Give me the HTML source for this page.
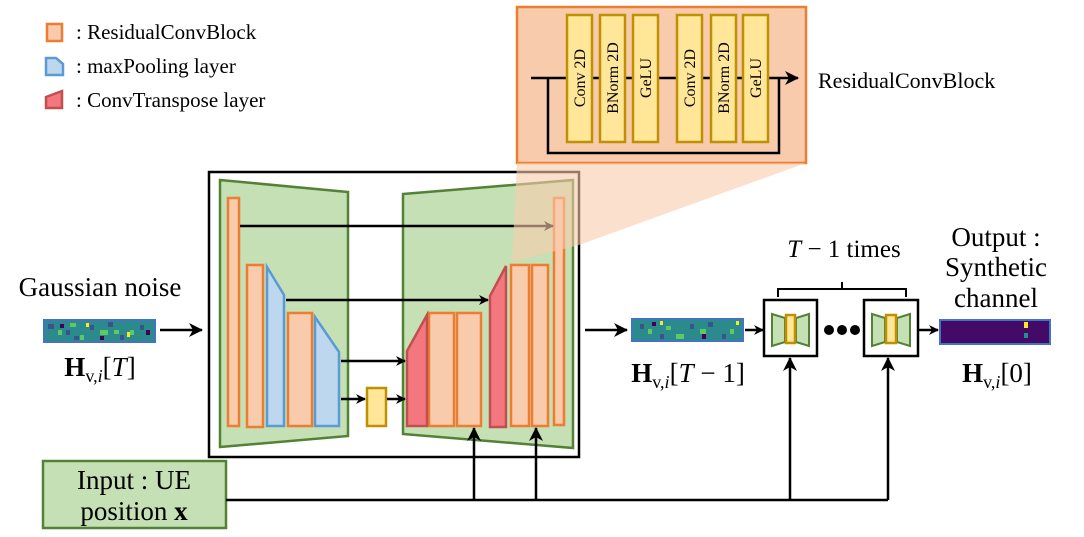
<!DOCTYPE html>
<html><head><meta charset="utf-8"><style>
html,body{margin:0;padding:0;background:#fff;}
svg{display:block;font-family:"Liberation Serif",serif;}
</style></head><body>
<svg width="1084" height="537" viewBox="0 0 1084 537" xmlns="http://www.w3.org/2000/svg">
<defs>
<marker id="ah" markerWidth="10" markerHeight="10" refX="9" refY="5" orient="auto" markerUnits="userSpaceOnUse">
<path d="M0,0 L10,5 L0,10 L3,5 Z" fill="#000"/></marker>
<marker id="ahb" markerWidth="14" markerHeight="14" refX="13" refY="7" orient="auto" markerUnits="userSpaceOnUse">
<path d="M0,0 L14,7 L0,14 L4,7 Z" fill="#000"/></marker>
</defs>

<!-- legend -->
<rect x="47" y="24" width="15" height="17" fill="#f8cbad" stroke="#ed7d31" stroke-width="2.5"/>
<path d="M46,58 L56,58 L63,64 L63,75 L46,75 Z" fill="#bdd7ee" stroke="#5b9bd5" stroke-width="2.5"/>
<path d="M46,97 L62,91 L62,108 L46,108 Z" fill="#f4777f" stroke="#c0504d" stroke-width="2.5"/>
<text x="76" y="39" font-size="21">: ResidualConvBlock</text>
<text x="76" y="73" font-size="21">: maxPooling layer</text>
<text x="76" y="107" font-size="21">: ConvTranspose layer</text>

<!-- top residual block -->
<rect x="517" y="7" width="289" height="156" fill="#f8cbad" stroke="#ed7d31" stroke-width="2.5"/>
<line x1="531" y1="78" x2="798" y2="78" stroke="#000" stroke-width="2.5" marker-end="url(#ahb)"/>
<polyline points="548,78 548,153 779,153 779,78" stroke="#000" stroke-width="2.5" fill="none"/>
<g fill="#ffe699" stroke="#bf9000" stroke-width="2.5">
<rect x="567" y="15" width="25" height="127"/><rect x="600" y="15" width="25" height="127"/><rect x="633" y="15" width="25" height="127"/>
<rect x="677" y="15" width="25" height="127"/><rect x="711" y="15" width="25" height="127"/><rect x="743" y="15" width="25" height="127"/>
</g>
<g font-size="16">
<text transform="translate(585,78) rotate(-90)" text-anchor="middle">Conv 2D</text>
<text transform="translate(618,78) rotate(-90)" text-anchor="middle">BNorm 2D</text>
<text transform="translate(651,78) rotate(-90)" text-anchor="middle">GeLU</text>
<text transform="translate(695,78) rotate(-90)" text-anchor="middle">Conv 2D</text>
<text transform="translate(729,78) rotate(-90)" text-anchor="middle">BNorm 2D</text>
<text transform="translate(761,78) rotate(-90)" text-anchor="middle">GeLU</text>
</g>
<text x="818" y="88" font-size="22">ResidualConvBlock</text>

<!-- UNet box -->
<rect x="209" y="172" width="370" height="285" fill="none" stroke="#000" stroke-width="2.5"/>
<path d="M220,180 L348,192 L348,436 L220,447 Z" fill="#c5e0b4" stroke="#538135" stroke-width="2.5"/>
<path d="M403,194 L573,180 L573,448 L403,434 Z" fill="#c5e0b4" stroke="#538135" stroke-width="2.5"/>
<g fill="#f8cbad" stroke="#ed7d31" stroke-width="2.5">
<rect x="228" y="198" width="11" height="228"/>
<rect x="247" y="265" width="16" height="162"/>
<rect x="288" y="313" width="24" height="113"/>
<rect x="429" y="313" width="25" height="113"/>
<rect x="457" y="313" width="24" height="113"/>
<rect x="511" y="265" width="18" height="161"/>
<rect x="532" y="265" width="16" height="161"/>
<rect x="554" y="198" width="10" height="227"/>
</g>
<g fill="#bdd7ee" stroke="#5b9bd5" stroke-width="2.5">
<path d="M267,267 L284,295 L284,426 L267,426 Z"/>
<path d="M315,317 L339,352 L339,426 L315,426 Z"/>
</g>
<g fill="#f4777f" stroke="#c0504d" stroke-width="2.5">
<path d="M407,351 L427,315 L427,426 L407,426 Z"/>
<path d="M490,296 L506,266 L506,427 L490,427 Z"/>
</g>
<rect x="367" y="388" width="19" height="38" fill="#ffe699" stroke="#bf9000" stroke-width="2.5"/>
<g stroke="#000" stroke-width="2.5" fill="none">
<line x1="240" y1="226" x2="553" y2="226" marker-end="url(#ah)"/>
<line x1="286" y1="300" x2="488" y2="300" marker-end="url(#ah)"/>
<line x1="341" y1="361" x2="405" y2="361" marker-end="url(#ah)"/>
<line x1="341" y1="399" x2="365" y2="399" marker-end="url(#ah)"/>
<line x1="387" y1="399" x2="405" y2="399" marker-end="url(#ah)"/>
</g>
<path d="M517,163 L806,163 L579,245 L512,262 Z" fill="#f8cbad" opacity="0.6"/>

<!-- input -->
<rect x="43" y="461" width="183" height="67" fill="#c5e0b4" stroke="#538135" stroke-width="2.5"/>
<text x="134" y="489" font-size="27" text-anchor="middle">Input : UE</text>
<text x="134" y="520" font-size="27" text-anchor="middle">position <tspan font-weight="bold">x</tspan></text>
<g stroke="#000" stroke-width="2.5" fill="none">
<polyline points="226,500 888,500"/>
<line x1="474" y1="500" x2="474" y2="428" marker-end="url(#ahb)"/>
<line x1="536" y1="500" x2="536" y2="428" marker-end="url(#ahb)"/>
<line x1="790" y1="500" x2="790" y2="358" marker-end="url(#ahb)"/>
<line x1="888" y1="500" x2="888" y2="358" marker-end="url(#ahb)"/>
<line x1="160" y1="330" x2="202" y2="330" marker-end="url(#ahb)"/>
<line x1="585" y1="330" x2="627" y2="330" marker-end="url(#ahb)"/>
<line x1="745" y1="330" x2="763" y2="330" marker-end="url(#ah)"/>
<line x1="919" y1="330" x2="938" y2="330" marker-end="url(#ah)"/>
</g>

<!-- noise strips -->
<g>
<rect x="44" y="320" width="111" height="22" fill="#2a8a8c" stroke="#4472c4" stroke-width="2"/>
<g fill="#3b528b"><rect x="48" y="324" width="6" height="5"/><rect x="66" y="330" width="4" height="5"/><rect x="90" y="325" width="4" height="5"/><rect x="120" y="335" width="4" height="5"/><rect x="140" y="325" width="4" height="5"/><rect x="74" y="336" width="5" height="4"/><rect x="108" y="322" width="5" height="5"/></g>
<g fill="#440154"><rect x="60" y="324" width="4" height="4"/><rect x="100" y="336" width="4" height="4"/><rect x="146" y="330" width="4" height="5"/></g>
<g fill="#5ec962"><rect x="58" y="330" width="4" height="5"/><rect x="80" y="335" width="4" height="5"/><rect x="100" y="330" width="8" height="5"/><rect x="130" y="330" width="4" height="5"/><rect x="70" y="323" width="6" height="4"/><rect x="114" y="330" width="5" height="4"/></g>
<g fill="#fde725"><rect x="86" y="323" width="3" height="4"/><rect x="127" y="332" width="3" height="5"/></g>
</g>
<g>
<rect x="632" y="319" width="111" height="22" fill="#2a8a8c" stroke="#4472c4" stroke-width="2"/>
<g fill="#3b528b"><rect x="640" y="324" width="4" height="5"/><rect x="660" y="334" width="4" height="5"/><rect x="690" y="324" width="4" height="5"/><rect x="722" y="334" width="4" height="5"/><rect x="708" y="322" width="5" height="5"/></g>
<g fill="#440154"><rect x="652" y="322" width="4" height="4"/><rect x="702" y="334" width="4" height="5"/></g>
<g fill="#5ec962"><rect x="648" y="329" width="4" height="5"/><rect x="676" y="334" width="8" height="5"/><rect x="700" y="329" width="6" height="5"/><rect x="730" y="329" width="4" height="5"/><rect x="666" y="326" width="5" height="4"/></g>
<g fill="#fde725"><rect x="660" y="321" width="3" height="4"/><rect x="736" y="321" width="3" height="4"/></g>
</g>
<rect x="940" y="320" width="110" height="24" fill="#440a68" stroke="#4472c4" stroke-width="2"/>
<rect x="1024" y="322" width="4" height="6" fill="#fde725"/>
<rect x="1024" y="333" width="4" height="5" fill="#21918c"/>

<!-- small unet boxes -->
<g>
<rect x="764" y="300" width="53" height="56" fill="#fff" stroke="#000" stroke-width="2.5"/>
<path d="M772,314 L785,318 L785,342 L772,346 Z" fill="#c5e0b4" stroke="#538135" stroke-width="2"/>
<path d="M809,314 L796,318 L796,342 L809,346 Z" fill="#c5e0b4" stroke="#538135" stroke-width="2"/>
<rect x="786" y="315" width="9" height="28" fill="#ffe699" stroke="#bf9000" stroke-width="2.5"/>
<rect x="864" y="300" width="54" height="56" fill="#fff" stroke="#000" stroke-width="2.5"/>
<path d="M872,314 L885,318 L885,342 L872,346 Z" fill="#c5e0b4" stroke="#538135" stroke-width="2"/>
<path d="M910,314 L897,318 L897,342 L910,346 Z" fill="#c5e0b4" stroke="#538135" stroke-width="2"/>
<rect x="886" y="315" width="10" height="28" fill="#ffe699" stroke="#bf9000" stroke-width="2.5"/>
<circle cx="829" cy="330" r="5"/><circle cx="842" cy="330" r="5"/><circle cx="855" cy="330" r="5"/>
<path d="M778,297 L778,289 L842,289 L842,282 M842,289 L906,289 L906,297" fill="none" stroke="#000" stroke-width="2"/>
</g>

<!-- texts -->
<text x="100" y="296" font-size="27" text-anchor="middle">Gaussian noise</text>
<text x="100" y="376" font-size="27" text-anchor="middle"><tspan font-weight="bold">H</tspan><tspan font-size="18" dy="6">v,<tspan font-style="italic">i</tspan></tspan><tspan dy="-6">[<tspan font-style="italic">T</tspan>]</tspan></text>
<text x="688" y="382" font-size="27" text-anchor="middle"><tspan font-weight="bold">H</tspan><tspan font-size="18" dy="6">v,<tspan font-style="italic">i</tspan></tspan><tspan dy="-6">[<tspan font-style="italic">T</tspan> − 1]</tspan></text>
<text x="997" y="382" font-size="27" text-anchor="middle"><tspan font-weight="bold">H</tspan><tspan font-size="18" dy="6">v,<tspan font-style="italic">i</tspan></tspan><tspan dy="-6">[0]</tspan></text>
<text x="844" y="257" font-size="25" text-anchor="middle"><tspan font-style="italic">T</tspan> − 1 times</text>
<text x="996" y="246" font-size="27" text-anchor="middle">Output :</text>
<text x="996" y="276" font-size="27" text-anchor="middle">Synthetic</text>
<text x="996" y="307" font-size="27" text-anchor="middle">channel</text>
</svg>
</body></html>
